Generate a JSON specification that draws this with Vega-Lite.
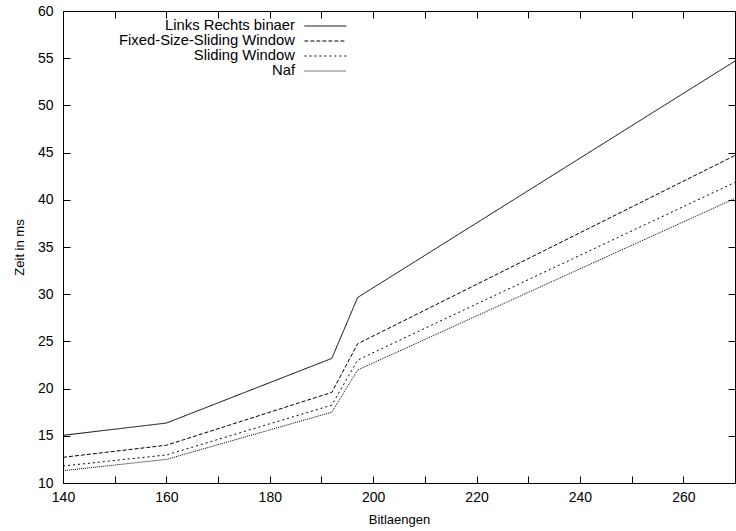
{
  "$schema": "https://vega.github.io/schema/vega-lite/v6.json",
  "width": 672,
  "height": 472,
  "autosize": {"type": "none"},
  "padding": {"left": 63, "top": 11, "right": 1, "bottom": 48},
  "background": "white",
  "config": {
    "font": "Liberation Sans",
    "view": {"stroke": "black", "strokeWidth": 1},
    "axis": {
      "grid": false,
      "domain": false,
      "tickColor": "black",
      "tickWidth": 1,
      "labelColor": "black",
      "titleColor": "black",
      "labelFontSize": 14,
      "titleFontSize": 13,
      "titleFontWeight": "normal",
      "labelFont": "Liberation Sans",
      "titleFont": "Liberation Sans"
    }
  },
  "data": {
    "values": [
      {"series": "Links Rechts binaer", "bits": 140, "ms": 15.05},
      {"series": "Links Rechts binaer", "bits": 160, "ms": 16.35},
      {"series": "Links Rechts binaer", "bits": 192, "ms": 23.2},
      {"series": "Links Rechts binaer", "bits": 197, "ms": 29.65},
      {"series": "Links Rechts binaer", "bits": 270, "ms": 54.7},
      {"series": "Fixed-Size-Sliding Window", "bits": 140, "ms": 12.72},
      {"series": "Fixed-Size-Sliding Window", "bits": 160, "ms": 14.0},
      {"series": "Fixed-Size-Sliding Window", "bits": 192, "ms": 19.6},
      {"series": "Fixed-Size-Sliding Window", "bits": 197, "ms": 24.75},
      {"series": "Fixed-Size-Sliding Window", "bits": 270, "ms": 44.7},
      {"series": "Sliding Window", "bits": 140, "ms": 11.8},
      {"series": "Sliding Window", "bits": 160, "ms": 12.97},
      {"series": "Sliding Window", "bits": 192, "ms": 18.25},
      {"series": "Sliding Window", "bits": 197, "ms": 23.03},
      {"series": "Sliding Window", "bits": 270, "ms": 41.85},
      {"series": "Naf", "bits": 140, "ms": 11.3},
      {"series": "Naf", "bits": 160, "ms": 12.5},
      {"series": "Naf", "bits": 192, "ms": 17.5},
      {"series": "Naf", "bits": 197, "ms": 21.97},
      {"series": "Naf", "bits": 270, "ms": 40.15}
    ]
  },
  "layer": [
    {
      "mark": {"type": "line", "stroke": "black", "strokeWidth": 1},
      "encoding": {
        "x": {
          "field": "bits", "type": "quantitative",
          "scale": {"domain": [140, 270], "nice": false, "zero": false},
          "axis": {
            "orient": "bottom",
            "values": [140, 150, 160, 170, 180, 190, 200, 210, 220, 230, 240, 250, 260, 270],
            "labelExpr": "datum.value % 20 == 0 ? datum.label : ''",
            "tickSize": -7,
            "labelPadding": 14,
            "labelFlush": false,
            "labelOverlap": false,
            "title": "Bitlaengen",
            "titlePadding": 9
          }
        },
        "y": {
          "field": "ms", "type": "quantitative",
          "scale": {"domain": [10, 60], "nice": false, "zero": false},
          "axis": {
            "orient": "left",
            "values": [10, 15, 20, 25, 30, 35, 40, 45, 50, 55, 60],
            "tickSize": -7,
            "labelPadding": 17,
            "labelFlush": false,
            "labelOverlap": false,
            "title": "Zeit in ms",
            "titlePadding": 11
          }
        },
        "strokeDash": {
          "field": "series", "type": "nominal",
          "scale": {
            "domain": ["Links Rechts binaer", "Fixed-Size-Sliding Window", "Sliding Window", "Naf"],
            "range": [[1, 0], [4, 2], [2, 3], [1, 1]]
          },
          "legend": {
            "title": null,
            "orient": "none",
            "legendX": 255,
            "legendY": 7.6,
            "padding": 0,
            "symbolType": "M-21,0H21",
            "symbolSize": 4,
            "symbolStrokeWidth": 1,
            "symbolStrokeColor": "black",
            "symbolFillColor": "transparent",
            "labelAlign": "right",
            "labelOffset": -37.8,
            "labelFontSize": 14.8,
            "labelColor": "black",
            "labelLimit": 0,
            "rowPadding": -1.5
          }
        }
      }
    },
    {
      "mark": {"type": "line", "opacity": 0},
      "encoding": {
        "x": {
          "field": "bits", "type": "quantitative",
          "scale": {"domain": [140, 270], "nice": false, "zero": false},
          "axis": {
            "orient": "top",
            "values": [140, 150, 160, 170, 180, 190, 200, 210, 220, 230, 240, 250, 260, 270],
            "labels": false,
            "tickSize": -7,
            "title": null
          }
        },
        "y": {
          "field": "ms", "type": "quantitative",
          "scale": {"domain": [10, 60], "nice": false, "zero": false},
          "axis": {
            "orient": "right",
            "values": [10, 15, 20, 25, 30, 35, 40, 45, 50, 55, 60],
            "labels": false,
            "tickSize": -7,
            "title": null
          }
        },
        "detail": {"field": "series", "type": "nominal"}
      }
    }
  ],
  "resolve": {"axis": {"x": "independent", "y": "independent"}}
}
